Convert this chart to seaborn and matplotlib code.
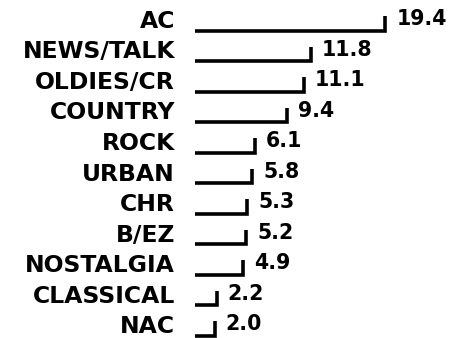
import numpy as np
import pandas as pd
import seaborn as sns
import matplotlib.pyplot as plt
from matplotlib.transforms import ScaledTranslation

# --------------------------------------------------#
# Data
# --------------------------------------------------#

formats = ["AC", "NEWS/TALK", "OLDIES/CR", "COUNTRY", "ROCK", "URBAN",
           "CHR", "B/EZ", "NOSTALGIA", "CLASSICAL", "NAC"]
shares = [19.4, 11.8, 11.1, 9.4, 6.1, 5.8, 5.3, 5.2, 4.9, 2.2, 2.0]
share_labels = ["19.4", "11.8", "11.1", "9.4", "6.1", "5.8",
                "5.3", "5.2", "4.9", "2.2", "2.0"]

df = pd.DataFrame({"format": formats, "share": shares})

# --------------------------------------------------#
# Plot
# --------------------------------------------------#

sns.set_style("white")
plt.rcParams["font.family"] = ["DejaVu Sans"]

fig = plt.figure(figsize=(4.49, 3.38), dpi=100)
ax = fig.add_axes([195 / 449, 0, 254 / 449, 1])

sns.barplot(data=df, x="share", y="format", orient="h", color="white",
            width=0.49, linewidth=0, ax=ax)

# only the bottom edge and the right end of each bar are inked
for p in ax.patches:
    x0 = p.get_x()
    x1 = x0 + p.get_width()
    y_top = p.get_y()
    y_bot = y_top + p.get_height()
    ax.plot([x0, x1, x1], [y_bot, y_bot, y_top], color="black",
            linewidth=2.6, solid_joinstyle="miter", solid_capstyle="butt",
            clip_on=False)

# value labels
for i, lab in enumerate(share_labels):
    ax.annotate(lab, xy=(shares[i], i), xytext=(8, 3.2),
                textcoords="offset points", va="center", ha="left",
                fontsize=14.8, fontweight="bold", color="black",
                annotation_clip=False)

ax.set_xlim(0, 254 / 9.8)
ax.set_ylim(10.311, -0.770)
ax.set_xlabel("")
ax.set_ylabel("")
ax.set_xticks([])
ax.tick_params(axis="y", length=0, pad=14.4)
for t in ax.get_yticklabels():
    t.set_fontsize(16.9)
    t.set_fontweight("bold")
    t.set_color("black")
    t.set_transform(t.get_transform() + ScaledTranslation(0, 4.5 / 100, fig.dpi_scale_trans))

sns.despine(ax=ax, left=True, bottom=True)

fig.savefig("out.png", dpi=100)
